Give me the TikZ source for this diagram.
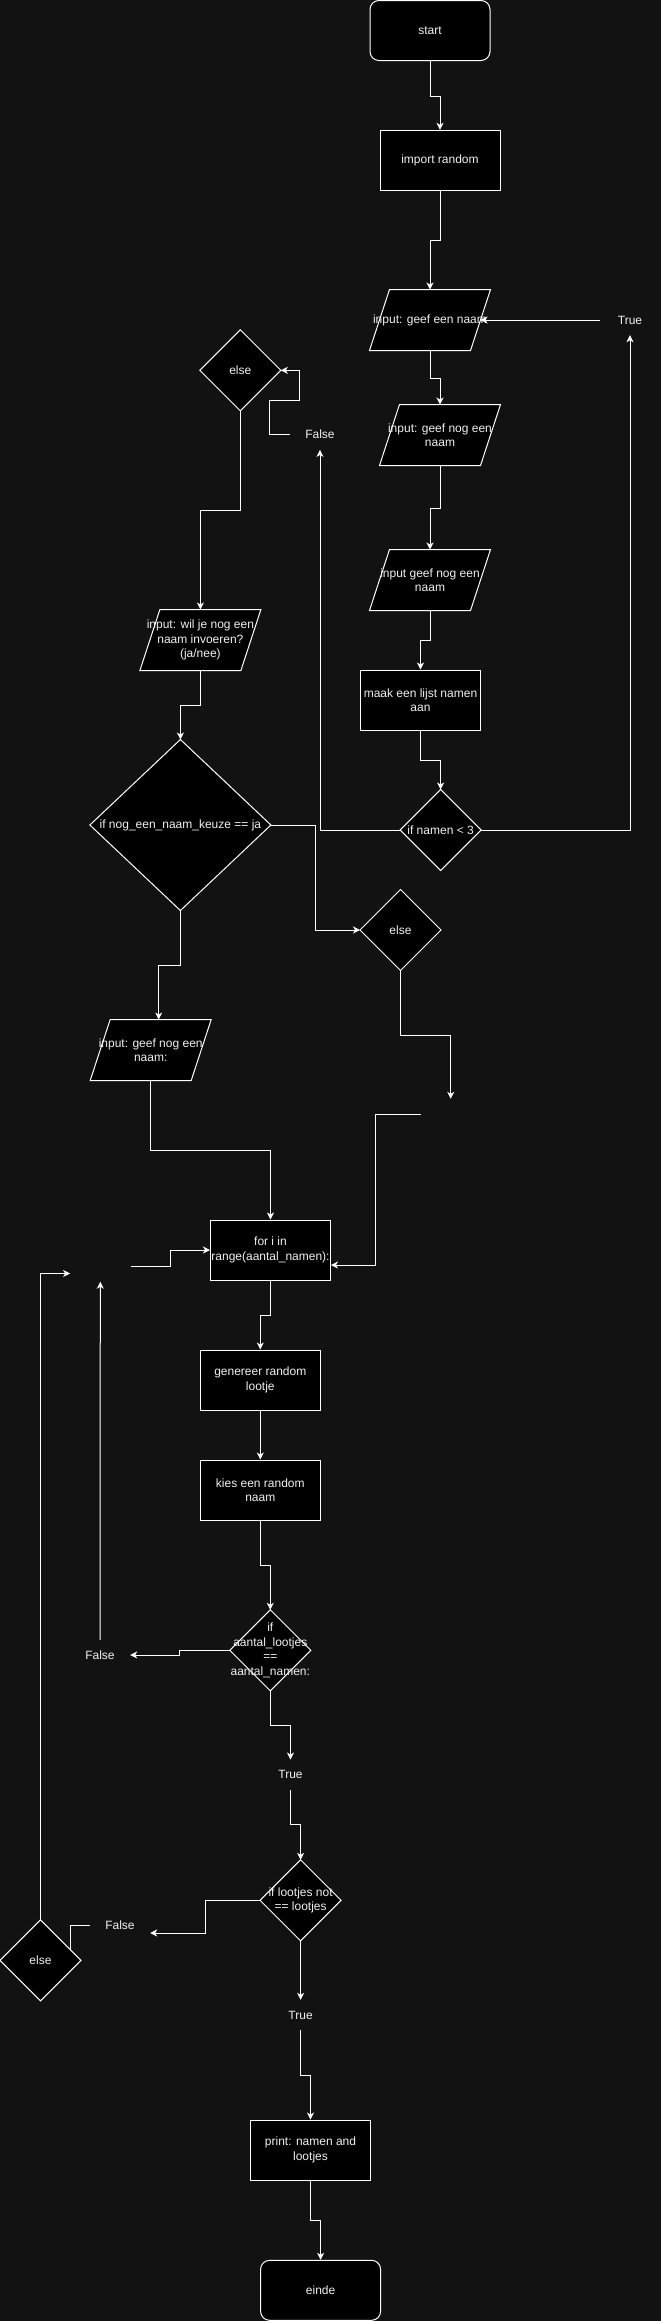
\documentclass[tikz,border=0pt]{standalone}
\usepackage{fontspec}
\setmainfont{Liberation Sans}
\usetikzlibrary{arrows.meta, backgrounds, calc}

\definecolor{achtergrond}{HTML}{121212}
\definecolor{tekst}{HTML}{F0F0F0}

\tikzset{
  blok/.style={draw=white, fill=black, line width=1pt, minimum width=120pt, minimum height=60pt, inner sep=0pt, align=center, text=tekst, font=\fontsize{12}{14.5}\selectfont},
  eindpunt/.style={blok, rounded corners=9pt},
  invoer/.style={blok, draw=none, fill=none},
  keuze/.style={blok, draw=none, fill=none, minimum width=80pt, minimum height=80pt},
  etiket/.style={minimum width=60pt, minimum height=30pt, inner sep=0pt, text=tekst, font=\fontsize{12}{14.5}\selectfont},
  leeg/.style={minimum width=60pt, minimum height=30pt, inner sep=0pt},
  vorm/.style={draw=white, fill=black, line width=1pt},
  lijn/.style={draw=white, line width=1pt},
  pijl/.style={lijn, -{Stealth[length=7pt, width=7pt, inset=2pt]}}
}

\begin{document}
\begin{tikzpicture}[x=1pt, y=-1pt]
    \useasboundingbox (0,0) rectangle (661,2321);

    % right column
    \node [eindpunt] (start) at (430,30.5) {start};
    \node [blok] (imp) at (440,160.3) {import random};
    \node [invoer] (in1) at (430,320) {input: geef een naam};
    \node [invoer] (in2) at (440,435) {input: geef nog een\\naam};
    \node [invoer] (in3) at (430,580) {input geef nog een\\naam};
    \node [blok] (lijst) at (420.5,700) {maak een lijst namen\\aan};
    \node [keuze] (ifnamen) at (440.6,830) {if namen < 3};
    \node [etiket] (t1) at (630,320) {True};
    \node [etiket] (f1) at (320,434.7) {False};

    % left column
    \node [keuze] (else1) at (240.3,370.3) {else};
    \node [invoer] (vraag) at (200.4,640) {input: wil je nog een\\naam invoeren?\\(ja/nee)};
    \node [keuze, minimum width=180pt, minimum height=170pt] (ifkeuze) at (180.4,825) {if nog\_een\_naam\_keuze == ja};
    \node [keuze] (else2) at (400.5,930) {else};
    \node [invoer] (in4) at (150.7,1050) {input: geef nog een\\naam:};
    \node [leeg] (leeg1) at (450.7,1114) {};

    % loop
    \node [blok] (loop) at (270.5,1250) {for i in\\range(aantal\_namen):};
    \node [leeg] (leeg2) at (100.3,1266.5) {};
    \node [blok] (genereer) at (260.3,1380) {genereer random\\lootje};
    \node [blok] (kies) at (260.3,1490) {kies een random\\naam};
    \node [keuze] (iflot) at (270.3,1650.3) {if\\aantal\_lootjes\\==\\aantal\_namen:};
    \node [etiket] (f2) at (100,1655) {False};
    \node [etiket] (t2) at (290.5,1774.7) {True};
    \node [keuze] (ifnot) at (300.6,1900.3) {if lootjes not\\== lootjes};
    \node [etiket] (f3) at (120,1925) {False};
    \node [keuze] (else3) at (40.5,1960.3) {else};
    \node [etiket] (t3) at (300.6,2015) {True};
    \node [blok] (print) at (310.5,2150) {print: namen and\\lootjes};
    \node [eindpunt] (einde) at (320.6,2290.3) {einde};

    % shapes behind the text
    \begin{scope}[on background layer]
        \fill [achtergrond] (0,0) rectangle (661,2321);
        \foreach \n in {in1,in2,in3,vraag,in4}
            \filldraw [vorm] ([xshift=20pt]\n.north west) -- (\n.north east) -- ([xshift=-20pt]\n.south east) -- (\n.south west) -- cycle;
        \foreach \n in {ifnamen,else1,ifkeuze,else2,iflot,ifnot,else3}
            \filldraw [vorm] (\n.north) -- (\n.east) -- (\n.south) -- (\n.west) -- cycle;
    \end{scope}

    % Draw the arrows
    \draw [pijl] (start.south) -- ++(0,35) -| (imp.north);
    \draw [pijl] (imp.south) -- ++(0,50) -| (in1.north);
    \draw [pijl] (in1.south) -- ++(0,28) -| (in2.north);
    \draw [pijl] (in2.south) -- ++(0,43) -| (in3.north);
    \draw [pijl] (in3.south) -- ++(0,30) -| (lijst.north);
    \draw [pijl] (lijst.south) -- ++(0,30) -| (ifnamen.north);

    % True / False of if namen < 3
    \draw [pijl] (ifnamen.east) -| (t1.south);
    \draw [pijl] (t1.west) -- ([xshift=-10pt]in1.east);
    \draw [pijl] (ifnamen.west) -| (f1.south);
    \draw [pijl] (f1.west) -- ++(-20,0) -- ++(0,-34.7) -- ++(30,0) |- (else1.east);

    \draw [pijl] (else1.south) -- ++(0,100) -| (vraag.north);
    \draw [pijl] (vraag.south) -- ++(0,35.3) -| (ifkeuze.north);
    \draw [pijl] (ifkeuze.east) -- ++(45,0) |- (else2.west);
    \draw [pijl] (ifkeuze.south) -- ++(0,55.3) -| ([xshift=8pt]in4.north);
    \draw [pijl] (in4.south) -- ++(0,70) -| (loop.north);
    \draw [pijl] (else2.south) -- ++(0,65) -| (leeg1.north);
    \draw [pijl] (leeg1.west) -- ++(-45,0) |- ([yshift=-15pt]loop.east);

    % loop back
    \draw [pijl] (leeg2.east) -- ++(40,0) |- (loop.west);
    \draw [pijl] (f2.north) -- (leeg2.south);
    \draw [pijl] (else3.north) |- ([yshift=-7pt]leeg2.west);

    \draw [pijl] (loop.south) -- ++(0,35) -| (genereer.north);
    \draw [pijl] (genereer.south) -- (kies.north);
    \draw [pijl] (kies.south) -- ++(0,45) -| (iflot.north);
    \draw [pijl] (iflot.west) -- ++(-50,0) |- (f2.east);
    \draw [pijl] (iflot.south) -- ++(0,35) -| (t2.north);
    \draw [pijl] (t2.south) -- ++(0,35) -| (ifnot.north);
    \draw [pijl] (ifnot.west) -- ++(-55,0) |- ([yshift=-8pt]f3.east);
    \draw [lijn] (f3.west) -| ($(else3.north)!0.75!(else3.east)$);
    \draw [pijl] (ifnot.south) -- (t3.north);
    \draw [pijl] (t3.south) -- ++(0,45) -| (print.north);
    \draw [pijl] (print.south) -- ++(0,40) -| (einde.north);
\end{tikzpicture}
\end{document}
